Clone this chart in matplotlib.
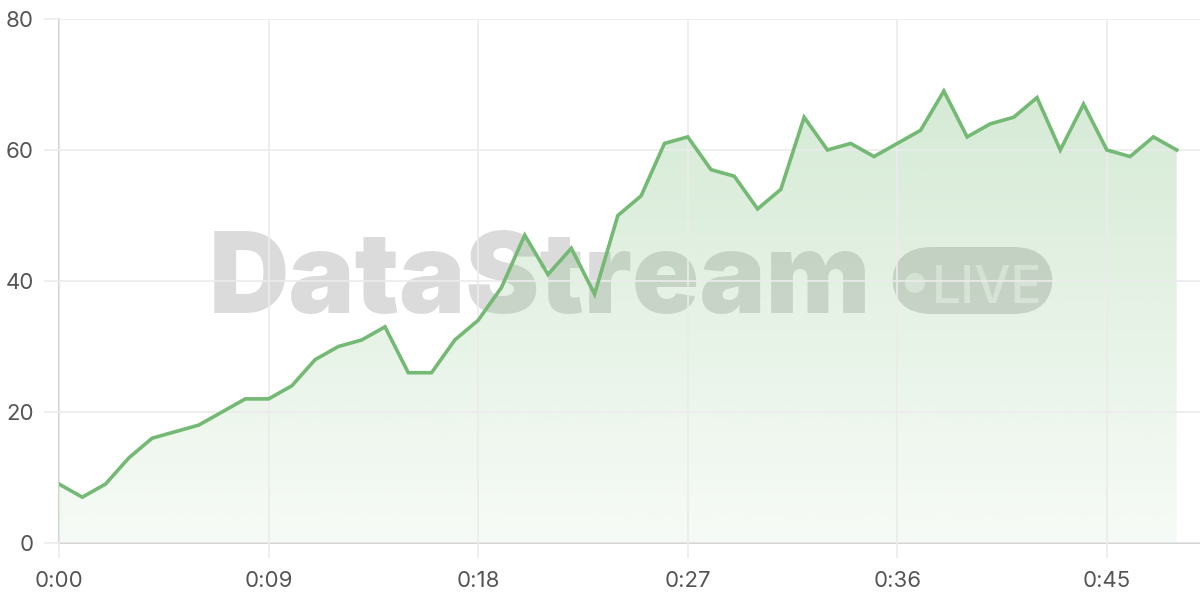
import numpy as np
import matplotlib.pyplot as plt
from matplotlib.patches import FancyBboxPatch

# data: one value per second
seconds = list(range(49))
values = [9, 7, 9, 13, 16, 17, 18, 20, 22, 22,
          24, 28, 30, 31, 33, 26, 26, 31, 34, 39,
          47, 41, 45, 38, 50, 53, 61, 62, 57, 56,
          51, 54, 65, 60, 61, 59, 61, 63, 69, 62,
          64, 65, 68, 60, 67, 60, 59, 62, 60]
x_ticks = [0, 9, 18, 27, 36, 45]
x_labels = ['0:00', '0:09', '0:18', '0:27', '0:36', '0:45']
y_ticks = [0, 20, 40, 60, 80]

plt.rcParams['font.family'] = ['Inter', 'DejaVu Sans']

line_color = '#74b974'
grid_color = '#ebebeb'

fig = plt.figure(figsize=(12, 6), dpi=100)
ax = fig.add_axes([59 / 1200, 1 - 543 / 600, 1 - 59 / 1200, (543 - 19) / 600])

# watermark (behind data)
ax.text(209 / 1200, 1 - 313 / 600, 'DataStream', transform=fig.transFigure,
        fontsize=80, fontweight=900, color='#808080', alpha=0.28,
        ha='left', va='baseline', zorder=0.5, clip_on=False)
pill = FancyBboxPatch((892 / 1200, 1 - 314 / 600), (1053 - 892) / 1200, (314 - 247) / 600,
                      boxstyle='round,pad=0,rounding_size=0.033', transform=fig.transFigure,
                      facecolor='#808080', edgecolor='none', alpha=0.3, zorder=0.5,
                      clip_on=False, mutation_aspect=2)
ax.add_patch(pill)
ax.scatter([915 / 1200], [1 - 283 / 600], s=210, transform=fig.transFigure,
           color='white', alpha=0.55, edgecolors='none', zorder=0.6, clip_on=False)
ax.text(932 / 1200, 1 - 303 / 600, 'LIVE', transform=fig.transFigure,
        fontsize=37, fontweight='medium', color='white', alpha=0.55,
        ha='left', va='baseline', zorder=0.6, clip_on=False)

# gradient area under the line
fill = ax.fill_between(seconds, values, 0, facecolor='none', edgecolor='none')
grad = np.linspace(0.06, 0.30, 256).reshape(-1, 1)
rgba = np.zeros((256, 1, 4))
rgba[..., 0], rgba[..., 1], rgba[..., 2] = 0x74 / 255, 0xb9 / 255, 0x74 / 255
rgba[..., 3] = grad
img = ax.imshow(rgba, extent=[0, max(seconds), 0, max(values)], origin='lower',
                aspect='auto', zorder=1)
img.set_clip_path(fill.get_paths()[0], transform=ax.transData)

ax.plot(seconds, values, color=line_color, lw=2.6, zorder=3, solid_joinstyle='miter')

ax.set_xlim(0, 49)
ax.set_ylim(0, 80)
ax.set_xticks(x_ticks, x_labels)
ax.set_yticks(y_ticks)
ax.grid(True, color=grid_color, lw=1.2, zorder=2)
ax.set_axisbelow(False)
for line in ax.get_xgridlines() + ax.get_ygridlines():
    line.set_zorder(2)
ax.tick_params(length=11, width=1.2, color=grid_color, labelcolor='#555555',
               labelsize=16, pad=7)
ax.tick_params(axis='x', pad=9)
for s in ['top', 'right']:
    ax.spines[s].set_visible(False)
for s in ['left', 'bottom']:
    ax.spines[s].set_color('#d4d4d4')
    ax.spines[s].set_linewidth(1.5)
    ax.spines[s].set_zorder(2.5)
ax.set_facecolor('none')

fig.savefig('out.png', dpi=100)
